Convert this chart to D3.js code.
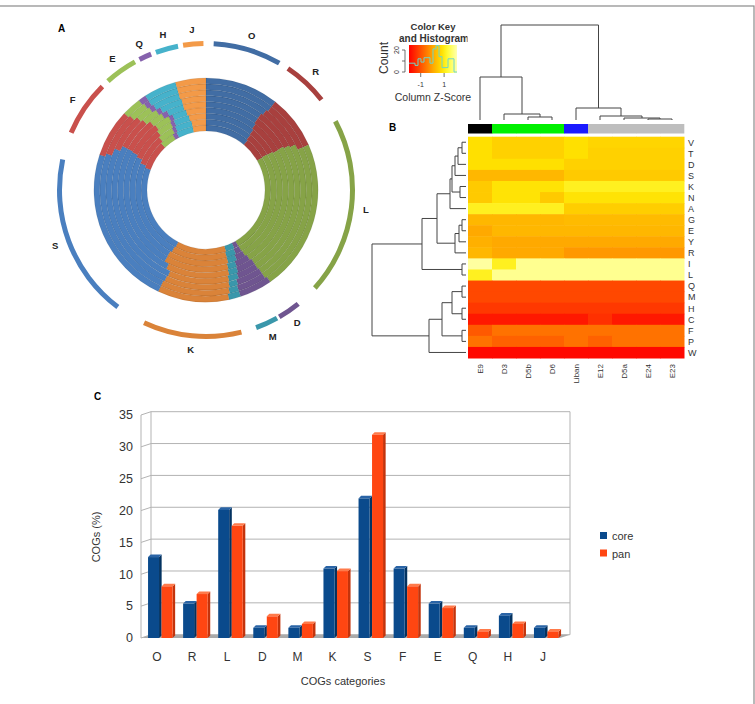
<!DOCTYPE html>
<html>
<head>
<meta charset="utf-8">
<script src="https://cdn.jsdelivr.net/npm/d3@7"></script>
<style>
  body { margin: 0; background: #fff; }
  text { font-family: "Liberation Sans", Arial, sans-serif; }
</style>
</head>
<body>
<svg id="fig" width="755" height="704"></svg>
<script>
// ---- data ----
const cogs = ["O", "R", "L", "D", "M", "K", "S", "F", "E", "Q", "H", "J"];
const corePct = [12.7, 5.4, 20.1, 1.6, 1.6, 10.9, 21.9, 10.9, 5.4, 1.6, 3.5, 1.6];
const panPct  = [8.1, 6.9, 17.6, 3.4, 2.2, 10.5, 31.9, 8.1, 4.7, 1.0, 2.2, 1.0];
const yTicks = [0, 5, 10, 15, 20, 25, 30, 35];

const cogColors = ["#416da4", "#a8403e", "#86a347", "#6f5590", "#3a97ab", "#da8339",
                   "#4a7fbf", "#c9504c", "#9cc158", "#8662ad", "#46b2cb", "#f39a48"];

// share (%) of every COG category in each genome ring, inner ring first
const ringShares = [
  [11.1, 5.6, 25.0, 1.1, 2.2, 12.8, 22.8, 7.2, 3.6, 1.1, 4.2, 3.3],
  [10.8, 5.8, 25.0, 1.4, 2.2, 12.8, 23.1, 7.2, 3.6, 0.8, 3.9, 3.3],
  [10.6, 6.1, 24.7, 1.9, 1.9, 13.1, 23.6, 6.9, 3.3, 0.8, 3.3, 3.6],
  [10.3, 6.7, 24.2, 2.8, 1.7, 12.8, 24.2, 6.9, 3.1, 0.8, 2.8, 3.9],
  [10.0, 6.9, 23.9, 3.3, 1.7, 11.7, 25.3, 6.4, 2.5, 1.1, 3.1, 4.2],
  [10.0, 7.2, 23.6, 3.6, 1.7, 10.6, 26.1, 5.6, 2.8, 0.8, 3.9, 4.2],
  [10.3, 7.2, 23.1, 4.2, 1.4, 10.6, 25.0, 6.1, 2.5, 0.8, 4.4, 4.4],
  [10.6, 7.8, 22.2, 4.4, 1.4, 10.6, 23.6, 6.7, 2.8, 0.8, 4.7, 4.4],
  [10.6, 7.8, 21.9, 4.7, 1.7, 10.3, 23.1, 6.9, 2.8, 1.1, 4.7, 4.4]
];
// outer category arcs (degrees, clockwise from top)
const arcFrom = [3, 34, 62, 141, 151, 166, 217, 293, 318, 333, 340, 351];
const arcTo   = [30, 52, 132, 150, 160, 205, 282, 315, 331, 338, 349, 359];

const strains = ["E9", "D3", "D5b", "D6", "Liban", "E12", "D5a", "E24", "E23"];
const strainColors = ["#000000", "#00f000", "#00f000", "#00f000", "#1a1aff", "#bebebe", "#bebebe", "#bebebe", "#bebebe"];
const aminoAcids = ["V", "T", "D", "S", "K", "N", "A", "G", "E", "Y", "R", "I", "L", "Q", "M", "H", "C", "F", "P", "W"];
const zScores = [
  [0.8, 0.6, 0.6, 0.6, 0.8, 0.65, 0.65, 0.65, 0.65],
  [0.8, 0.6, 0.6, 0.6, 0.8, 0.6, 0.6, 0.6, 0.6],
  [0.8, 0.8, 0.8, 0.8, 0.6, 0.6, 0.6, 0.6, 0.6],
  [0.25, 0.25, 0.25, 0.25, 0.5, 0.5, 0.5, 0.5, 0.5],
  [0.5, 0.85, 0.85, 0.85, 1.1, 1.1, 1.1, 1.1, 1.1],
  [0.5, 0.85, 0.85, 0.5, 0.85, 0.85, 0.85, 0.85, 0.85],
  [1.1, 1.1, 1.1, 1.1, 0.55, 0.55, 0.55, 0.55, 0.55],
  [0.25, 0.25, 0.25, 0.25, 0.3, 0.3, 0.3, 0.3, 0.3],
  [0.05, 0.25, 0.25, 0.25, 0.25, 0.25, 0.25, 0.25, 0.25],
  [0.15, 0.05, 0.05, 0.05, 0.05, 0.05, 0.05, 0.05, 0.05],
  [0.25, 0.05, 0.05, 0.05, -0.15, -0.15, -0.15, -0.15, -0.15],
  [2.0, 1.1, 1.9, 1.9, 1.9, 1.9, 1.9, 1.9, 1.9],
  [1.1, 1.9, 1.9, 1.9, 1.9, 1.9, 1.9, 1.9, 1.9],
  [-1.1, -1.1, -1.1, -1.1, -1.1, -1.1, -1.1, -1.1, -1.1],
  [-1.1, -1.1, -1.1, -1.1, -1.1, -1.1, -1.1, -1.1, -1.1],
  [-1.3, -1.3, -1.3, -1.3, -1.3, -1.3, -1.3, -1.3, -1.3],
  [-1.7, -1.7, -1.7, -1.7, -1.7, -1.4, -1.7, -1.7, -1.7],
  [-0.9, -0.6, -0.6, -0.6, -0.6, -0.6, -0.6, -0.6, -0.6],
  [-0.6, -0.8, -0.8, -0.8, -0.6, -0.8, -0.6, -0.6, -0.6],
  [-1.9, -1.9, -1.9, -1.9, -1.9, -1.9, -1.9, -1.9, -1.9]
];
// hclust trees (merge heights)
const rowTree = {h: 9.4, c: [
  {h: 4.4, c: [
    {h: 2.9, c: [
      {h: 1.6, c: [
        {h: 1.4, c: [
          {h: 1.1, c: [{h: 0.8, c: [{h: 0.4, c: ["V", "T"]}, "D"]}, "S"]},
          {h: 0.6, c: ["K", "N"]}]},
        "A"]},
      {h: 1.1, c: [{h: 0.7, c: [{h: 0.4, c: ["G", "E"]}, "Y"]}, "R"]}]},
    {h: 0.4, c: ["I", "L"]}]},
  {h: 3.7, c: [
    {h: 2.4, c: [
      {h: 1.4, c: [{h: 0.4, c: ["Q", "M"]}, {h: 0.4, c: ["H", "C"]}]},
      {h: 0.4, c: ["F", "P"]}]},
    "W"]}
]};
const colTree = {h: 9.5, c: [
  {h: 4.3, c: ["E9", {h: 0.6, c: ["D3", {h: 0.3, c: ["D5b", "D6"]}]}]},
  {h: 1.2, c: ["Liban", {h: 0.4, c: ["E12", {h: 0.2, c: ["D5a", {h: 0.1, c: ["E24", "E23"]}]}]}]}
]};
const keyCounts = [8, 8, 6, 12, 9, 13, 13, 8, 21, 24, 14, 4, 4, 12, 12, 0];
const keyTicks = [-1, 1];

const svg = d3.select("#fig");
svg.append("rect").attr("x", -1).attr("y", 6).attr("width", 755).attr("height", 710)
  .attr("fill", "none").attr("stroke", "#8a8a8a").attr("stroke-width", 1.2);

// ================= Panel A : circular plot =================
const cx = 206, cy = 190;
const gA = svg.append("g").attr("transform", `translate(${cx},${cy})`);
const rIn = 59, ringW = 5.9;
const pie = d3.pie().sort(null).value(d => d);
const rad = d => d * Math.PI / 180;

ringShares.forEach((shares, i) => {
  const arc = d3.arc().innerRadius(rIn + i * ringW).outerRadius(rIn + (i + 1) * ringW);
  gA.append("g").selectAll("path")
    .data(pie(shares))
    .join("path")
      .attr("d", arc)
      .attr("fill", (d, j) => cogColors[j])
      .attr("stroke", "rgba(0,0,0,0.13)")
      .attr("stroke-width", 0.6);
});

const outerArc = d3.arc().innerRadius(144).outerRadius(149);
gA.append("g").selectAll("path")
  .data(cogs)
  .join("path")
    .attr("d", (d, i) => outerArc({startAngle: rad(arcFrom[i]), endAngle: rad(arcTo[i])}))
    .attr("fill", (d, i) => cogColors[i]);

gA.append("g").selectAll("text")
  .data(cogs)
  .join("text")
    .attr("x", (d, i) => 161 * Math.sin(rad((arcFrom[i] + arcTo[i]) / 2)))
    .attr("y", (d, i) => -161 * Math.cos(rad((arcFrom[i] + arcTo[i]) / 2)) + 3)
    .attr("text-anchor", "middle")
    .attr("font-size", 9.5)
    .attr("font-weight", "bold")
    .attr("fill", "#222")
    .text(d => d);

svg.append("text").attr("x", 58).attr("y", 32).attr("font-size", 10).attr("font-weight", "bold").text("A");

// ================= Panel B : heatmap =================
const hx = d3.scaleBand().domain(strains).range([468, 684]);
const hy = d3.scaleBand().domain(aminoAcids).range([136.7, 358]);
const heat = d3.scaleLinear()
  .domain([-2, -1, 0, 0.8, 1.4, 2.1])
  .range(["#ff0000", "#ff5000", "#ffa500", "#ffe000", "#ffff40", "#ffffb0"]);

const gB = svg.append("g");
aminoAcids.forEach((aa, r) => {
  gB.append("g").selectAll("rect")
    .data(zScores[r])
    .join("rect")
      .attr("x", (d, c) => hx(strains[c]))
      .attr("y", hy(aa))
      .attr("width", hx.bandwidth() + 0.5)
      .attr("height", hy.bandwidth() + 0.5)
      .attr("fill", d => heat(d));
});

gB.selectAll(".sc").data(strains).join("rect")
  .attr("x", d => hx(d)).attr("y", 124)
  .attr("width", hx.bandwidth() + 0.3).attr("height", 9.5)
  .attr("fill", (d, i) => strainColors[i]);

gB.selectAll(".rl").data(aminoAcids).join("text")
  .attr("x", 688).attr("y", d => hy(d) + hy.bandwidth() / 2 + 3.3)
  .attr("font-size", 9).attr("fill", "#333").text(d => d);

gB.selectAll(".cl").data(strains).join("text")
  .attr("transform", d => `translate(${hx(d) + hx.bandwidth() / 2 + 3},364) rotate(-90)`)
  .attr("text-anchor", "end")
  .attr("font-size", 8).attr("fill", "#333").text(d => d);

// dendrograms
function layout(node, posOf, segs, hScale, horizontal) {
  if (typeof node === "string") return {p: posOf(node), h: 0};
  const kids = node.c.map(k => layout(k, posOf, segs, hScale, horizontal));
  const p = (kids[0].p + kids[1].p) / 2;
  const hv = hScale(node.h);
  if (horizontal) {
    segs.push([hv, kids[0].p, hv, kids[1].p]);
    kids.forEach(k => segs.push([hv, k.p, hScale(k.h), k.p]));
  } else {
    segs.push([kids[0].p, hv, kids[1].p, hv]);
    kids.forEach(k => segs.push([k.p, hv, k.p, hScale(k.h)]));
  }
  return {p, h: node.h};
}
const rowSegs = [], colSegs = [];
layout(rowTree, d => hy(d) + hy.bandwidth() / 2, rowSegs, d3.scaleLinear().domain([0, 10]).range([466, 366]), true);
layout(colTree, d => hx(d) + hx.bandwidth() / 2, colSegs, d3.scaleLinear().domain([0, 10]).range([120, 20]), false);
gB.append("g").selectAll("line").data(rowSegs.concat(colSegs)).join("line")
  .attr("x1", d => d[0]).attr("y1", d => d[1]).attr("x2", d => d[2]).attr("y2", d => d[3])
  .attr("stroke", "#444").attr("stroke-width", 1);

svg.append("text").attr("x", 389).attr("y", 131).attr("font-size", 10).attr("font-weight", "bold").text("B");

// colour key
const kx = d3.scaleLinear().domain([-2, 2.1]).range([409, 457]);
const ky = d3.scaleLinear().domain([0, 25]).range([72, 44.5]);
const defs = svg.append("defs");
const grad = defs.append("linearGradient").attr("id", "keygrad");
d3.range(0, 1.0001, 0.1).forEach(t => {
  grad.append("stop").attr("offset", t).attr("stop-color", heat(kx.invert(409 + t * 48)));
});
defs.append("clipPath").attr("id", "keyclip").append("rect").attr("x", 370).attr("y", 20).attr("width", 97.5).attr("height", 30);
const gK = svg.append("g");
gK.append("rect").attr("x", 409).attr("y", 45).attr("width", 48).attr("height", 28).attr("fill", "url(#keygrad)");
const binW = 48 / keyCounts.length;
let hp = "";
keyCounts.forEach((c, i) => {
  const x0 = 409 + i * binW;
  hp += (i === 0 ? `M${x0},${ky(c)}` : `L${x0},${ky(c)}`) + `L${x0 + binW},${ky(c)}`;
});
gK.append("path").attr("d", hp).attr("fill", "none").attr("stroke", "#6fd6c6").attr("stroke-width", 1);
gK.append("line").attr("x1", 405).attr("x2", 405).attr("y1", ky(0)).attr("y2", ky(20)).attr("stroke", "#333").attr("stroke-width", 0.7);
[0, 10, 20].forEach(t => {
  gK.append("line").attr("x1", 402).attr("x2", 405).attr("y1", ky(t)).attr("y2", ky(t)).attr("stroke", "#333").attr("stroke-width", 0.7);
});
[0, 20].forEach(t => {
  gK.append("text").attr("transform", `translate(399,${ky(t)}) rotate(-90)`)
    .attr("text-anchor", "middle").attr("font-size", 7).attr("fill", "#333").text(t);
});
keyTicks.forEach(t => {
  gK.append("line").attr("x1", kx(t)).attr("x2", kx(t)).attr("y1", 73).attr("y2", 77).attr("stroke", "#333").attr("stroke-width", 0.7);
  gK.append("text").attr("x", kx(t)).attr("y", 87).attr("text-anchor", "middle").attr("font-size", 7).attr("fill", "#333").text(t);
});
gK.append("text").attr("transform", "translate(388,58) rotate(-90)").attr("text-anchor", "middle")
  .attr("font-size", 12).attr("fill", "#333").text("Count");
gK.append("text").attr("x", 433).attr("y", 101).attr("text-anchor", "middle").attr("font-size", 10.5).attr("fill", "#333").text("Column Z-Score");
const kt = gK.append("g").attr("clip-path", "url(#keyclip)");
kt.append("text").attr("x", 433).attr("y", 30).attr("text-anchor", "middle").attr("font-size", 9.5).attr("font-weight", "bold").attr("fill", "#333").text("Color Key");
kt.append("text").attr("x", 434).attr("y", 42).attr("text-anchor", "middle").attr("font-size", 10).attr("font-weight", "bold").attr("fill", "#333").text("and Histogram");

// ================= Panel C : 3D bar chart =================
const gC = svg.append("g");
const bx = d3.scaleBand().domain(cogs).range([139.5, 560.5]);
const by = d3.scaleLinear().domain([0, 35]).range([638, 415]);
const wallDx = 10, wallDy = -3.3;
const xFront = 141, xBack = xFront + wallDx, xRight = 570;

gC.append("polygon")
  .attr("points", [[xFront, by(0)], [xBack, by(0) + wallDy], [xRight, by(0) + wallDy], [xRight - wallDx, by(0)]].join(" "))
  .attr("fill", "#a9a9a9");
gC.selectAll(".grid").data(yTicks).join("path")
  .attr("d", d => `M${xFront},${by(d)}L${xBack},${by(d) + wallDy}L${xRight},${by(d) + wallDy}`)
  .attr("fill", "none").attr("stroke", "#b3b3b3").attr("stroke-width", 1);
gC.append("line").attr("x1", xFront).attr("x2", xFront).attr("y1", by(35)).attr("y2", by(0)).attr("stroke", "#b3b3b3");
gC.append("line").attr("x1", xBack).attr("x2", xBack).attr("y1", by(35) + wallDy).attr("y2", by(0) + wallDy).attr("stroke", "#b3b3b3");
gC.append("line").attr("x1", xRight).attr("x2", xRight).attr("y1", by(35) + wallDy).attr("y2", by(0) + wallDy).attr("stroke", "#b3b3b3");

function bar3d(x0, w, v, front, side, top) {
  const y0 = by(0), y1 = by(v), d = 2.6;
  const g = gC.append("g");
  g.append("polygon").attr("points", [[x0 + w, y1], [x0 + w + d, y1 - d], [x0 + w + d, y0 - d], [x0 + w, y0]].join(" ")).attr("fill", side);
  g.append("polygon").attr("points", [[x0, y1], [x0 + d, y1 - d], [x0 + w + d, y1 - d], [x0 + w, y1]].join(" ")).attr("fill", top);
  g.append("rect").attr("x", x0).attr("y", y1).attr("width", w).attr("height", y0 - y1).attr("fill", front);
}
cogs.forEach((c, i) => {
  const mid = bx(c) + bx.bandwidth() / 2;
  bar3d(mid - 9, 11, corePct[i], "#0a4a8c", "#033260", "#2a64a6");
  bar3d(mid + 4.5, 11, panPct[i], "#ff4612", "#c4330b", "#ff7a4a");
});

gC.selectAll(".yl").data(yTicks).join("text")
  .attr("x", 133).attr("y", d => by(d) + 4.3)
  .attr("text-anchor", "end").attr("font-size", 12.5).attr("fill", "#333").text(d => d);
gC.selectAll(".xl").data(cogs).join("text")
  .attr("x", d => bx(d) + bx.bandwidth() / 2).attr("y", 661)
  .attr("text-anchor", "middle").attr("font-size", 12).attr("fill", "#333").text(d => d);
gC.append("text").attr("transform", "translate(100,537) rotate(-90)").attr("text-anchor", "middle")
  .attr("font-size", 11).attr("fill", "#333").text("COGs (%)");
gC.append("text").attr("x", 343).attr("y", 685).attr("text-anchor", "middle")
  .attr("font-size", 11).attr("fill", "#333").text("COGs categories");

const legend = [["core", "#0a4a8c"], ["pan", "#ff4612"]];
legend.forEach((l, i) => {
  gC.append("rect").attr("x", 600).attr("y", 532 + i * 17.5).attr("width", 7).attr("height", 7).attr("fill", l[1]);
  gC.append("text").attr("x", 612).attr("y", 540 + i * 17.5).attr("font-size", 11).attr("fill", "#333").text(l[0]);
});
svg.append("text").attr("x", 94).attr("y", 400).attr("font-size", 10).attr("font-weight", "bold").text("C");
</script>
</body>
</html>
